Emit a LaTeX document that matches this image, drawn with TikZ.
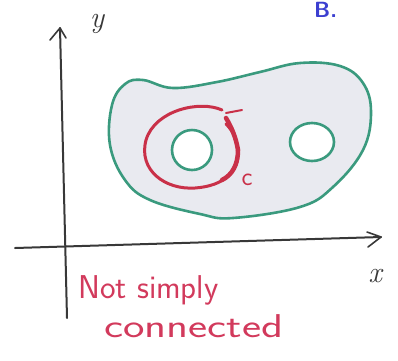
\documentclass[tikz,border=0pt]{standalone}
\usepackage{fontspec}
\usetikzlibrary{arrows.meta,shapes.geometric}
\definecolor{grn}{HTML}{3A9A7E}
\definecolor{redpen}{HTML}{D23A5C}
\definecolor{loopred}{HTML}{C93048}
\definecolor{bluepen}{HTML}{3B3FD0}
\definecolor{axisgray}{HTML}{383838}
\definecolor{shade}{HTML}{E9EAF0}
\tikzset{
  axisline/.style={draw=axisgray, line width=2pt, line cap=round},
  tipline/.style={draw=axisgray, line width=1.6pt, line cap=round, line join=round},
  boundary/.style={draw=grn, line width=2.6pt},
  hole/.style={draw=grn, line width=2.6pt, fill=white},
  curveC/.style={draw=loopred, line width=3pt, line cap=round},
  handtext/.style={text=redpen, font=\sffamily\fontsize{33}{36}\selectfont, inner sep=0pt},
  axlabel/.style={text=axisgray, font=\itshape\fontsize{30}{32}\selectfont, inner sep=0pt}
}
\begin{document}
\begin{tikzpicture}[x=1pt,y=-1pt]
\useasboundingbox (0,0) rectangle (398,360);
% region
\path[boundary, fill=shade] plot[smooth cycle, tension=0.65] coordinates {
  (143,80) (173,88) (217,82) (260,72) (300,63) (340,66) (363,83) (371,112)
  (363,150) (333,187) (300,207) (233,218) (200,214) (150,200) (125,180)
  (110,145) (112,105) (125,84)};
% holes
\node[hole, circle, minimum size=40pt, inner sep=0pt] (h1) at (192,150) {};
\node[hole, ellipse, minimum width=44pt, minimum height=38pt, inner sep=0pt] (h2) at (312,142) {};
% curve C
\coordinate (cs) at (222,110);
\coordinate (ce) at (226,124);
\draw[curveC] (cs) .. controls (200,100) and (155,110) .. (146,140)
  .. controls (138,170) and (165,190) .. (195,188)
  .. controls (225,186) and (240,170) .. (238,150)
  .. controls (236,135) and (230,128) .. (ce);
\draw[curveC, line width=4.5pt] (238,150) .. controls (236,138) and (232,128) .. (226,118);
\draw[curveC, line width=4.5pt] (222,180) .. controls (232,175) and (238,165) .. (238,150);
\coordinate (t1) at (226,113);
\coordinate (t2) at (242,110);
\draw[curveC, line width=2pt] (t1) -- (t2);
\node[text=loopred, font=\sffamily\fontsize{26}{28}\selectfont, inner sep=0pt] (clab) at (247,180) {c};
% axes
\coordinate (ybot) at (67,318);
\coordinate (ytop) at (60,28);
\draw[axisline] (ybot) -- (ytop);
\coordinate (ya) at (50,40);
\coordinate (yb) at (66,38);
\draw[tipline] (ya) -- (ytop) -- (yb);
\coordinate (xl) at (15,248);
\coordinate (xr) at (381,237);
\draw[axisline] (xl) -- (xr);
\coordinate (xa) at (367,232);
\coordinate (xb) at (368,247);
\draw[tipline] (xa) -- (xr) -- (xb);
\node[axlabel] (ylab) at (97,24) {y};
\node[axlabel] (xlab) at (375,276) {x};
% B label
\node[text=bluepen, font=\sffamily\bfseries\fontsize{22}{24}\selectfont, inner sep=0pt, anchor=base west] (blab) at (314,17) {B.};
% caption
\node[handtext, anchor=base west] (cap1) at (78,298) {Not simply};
\node[handtext, anchor=base west] (cap2) at (104,337) {\scalebox{1.38}[1]{connected}};
\end{tikzpicture}
\end{document}
